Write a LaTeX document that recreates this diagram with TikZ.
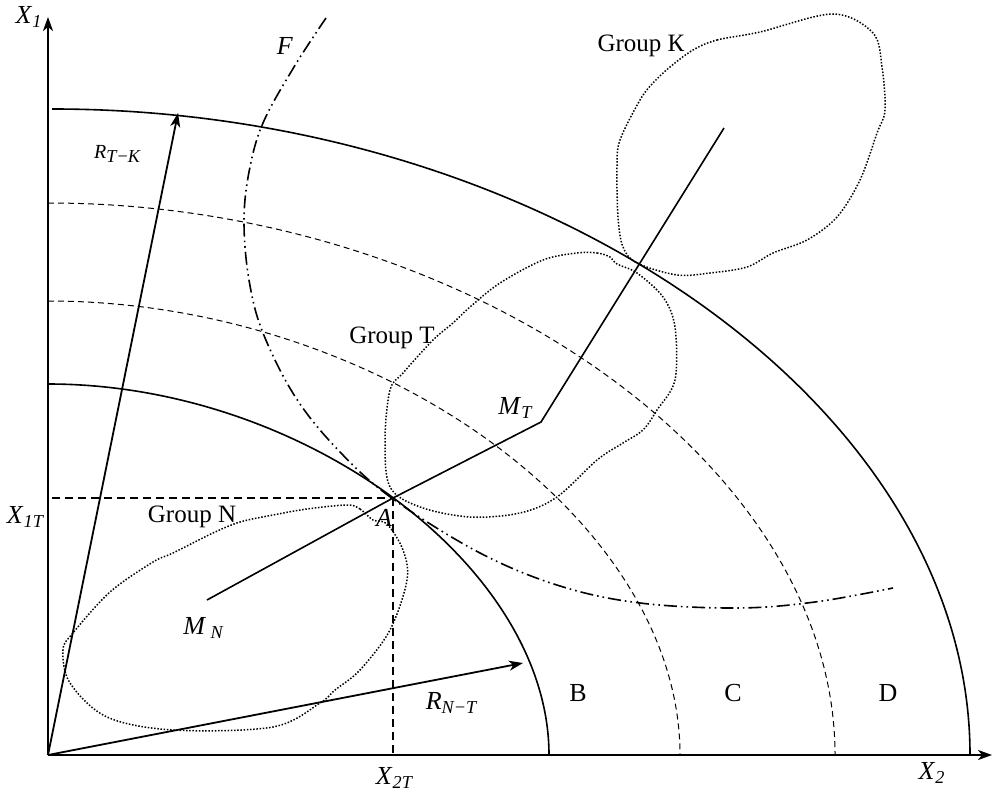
\documentclass[tikz,border=0pt]{standalone}
\usepackage{fontspec}
\setmainfont{Liberation Serif}
\usetikzlibrary{arrows.meta}
\newcommand{\symb}[2]{\textit{#1}\textsubscript{\textit{#2}}}
\tikzset{
    axis/.style={
        draw,
        line width=1.1pt,
        -{Stealth[length=7pt,width=5pt,inset=2pt]}
    },
    bound/.style={
        draw,
        line width=0.8pt
    },
    level/.style={
        draw,
        line width=0.5pt,
        dash pattern=on 3pt off 2pt
    },
    proj/.style={
        draw,
        line width=0.6pt,
        dash pattern=on 4pt off 2.5pt
    },
    group/.style={
        draw,
        line width=0.75pt,
        dash pattern=on 0.75pt off 0.85pt
    },
    traj/.style={
        draw,
        line width=0.8pt,
        dash pattern=on 6.5pt off 2pt on 0.8pt off 2pt on 0.8pt off 2pt
    },
    radius/.style={
        draw,
        line width=0.9pt,
        -{Stealth[length=7pt,width=5pt,inset=2pt]}
    },
    link/.style={
        draw,
        line width=0.8pt
    },
    lbl/.style={
        inner sep=0pt,
        font=\fontsize{13}{15}\selectfont
    },
    grp/.style={
        inner sep=0pt,
        font=\fontsize{12.5}{15}\selectfont
    }
}
\begin{document}
\begin{tikzpicture}[x=0.5pt, y=-0.5pt]
        \useasboundingbox (0,0) rectangle (994,796);
        % axes and points
        \coordinate (O) at (48,755);
        \coordinate (x1end) at (48,17);
        \coordinate (x2end) at (992,755);
        \coordinate (A) at (393,498);
        \coordinate (X1T) at (52,498);
        \coordinate (X2T) at (393,755);
        \coordinate (MN) at (207,600);
        \coordinate (MT) at (541,422);
        \coordinate (MK) at (724,128);
        \coordinate (rtk) at (178,113);
        \coordinate (rnt) at (523,663);

        \path[axis] (O) -- (x1end);
        \path[axis] (O) -- (x2end);

        % zone boundaries
        \path[bound] (48,384) .. controls (303.5,384) and (549,566) .. (549,755);
        \path[bound] (52,109) .. controls (546,109) and (970,406) .. (970,755);
        \path[level] (48,301) .. controls (377,301) and (680,519) .. (680,755);
        \path[level] (48,203) .. controls (465,203) and (835,462) .. (835,755);

        % F
        \path[traj] plot[smooth, tension=0.6] coordinates {(326,18) (294,67) (263,123) (249,172) (244,222) (249,280) (263,333) (296,398) (340,452) (393,499) (480,553) (560,586) (640,603) (737,608) (815,602) (893,588)};

        % projections of A
        \path[proj] (X1T) -- (A);
        \path[proj] (A) -- (X2T);

        % groups
        \path[group] plot[smooth cycle, tension=0.55] coordinates {(347,505) (360,509) (373,520) (387,524) (403,550) (407,580) (390,630) (360,670) (335,690) (320,703) (273,727) (173,730) (107,717) (70,683) (63,650) (73,633) (110,592) (153,562) (173,553) (213,533) (240,522) (273,515) (307,509)};
        \path[group] plot[smooth cycle, tension=0.55] coordinates {(577,253) (597,253) (610,257) (617,264) (637,273) (663,297) (675,327) (675,380) (657,410) (643,430) (623,443) (597,460) (557,497) (520,513) (470,517) (420,507) (390,487) (385,440) (390,390) (403,373) (433,340) (453,323) (470,307) (500,283) (543,260)};
        \path[group] plot[smooth cycle, tension=0.55] coordinates {(693,50) (717,40) (760,32) (833,14) (873,33) (882,67) (885,110) (877,133) (860,180) (837,217) (807,240) (773,253) (747,267) (710,273) (677,275) (637,263) (623,247) (618,217) (617,167) (620,140) (640,100) (653,83) (670,67)};

        % centres
        \path[link] (MN) -- (A) -- (MT) -- (MK);

        % radii
        \path[radius] (O) -- (rtk);
        \path[radius] (O) -- (rnt);

        % labels
        \node[lbl] (lx1) at (29,17) {\symb{X}{1}};
        \node[lbl] (lx2) at (932,773) {\symb{X}{2}};
        \node[lbl] (lx1t) at (26,517) {\symb{X}{1T}};
        \node[lbl] (lx2t) at (395,778) {\symb{X}{2T}};
        \node[lbl] (lf) at (285,46) {\textit{F}};
        \node[lbl] (la) at (384,518) {\textit{A}};
        \node[lbl] (lmn) at (204,628) {\textit{M}\,\textsubscript{\textit{N}}};
        \node[lbl] (lmt) at (516,408) {\symb{M}{T}};
        \node[lbl] (lrtk) at (118,154) {{\fontsize{10}{12}\selectfont\textit{R}}\textsubscript{\textit{T}−\textit{K}}};
        \node[lbl] (lrnt) at (452,703) {\symb{R}{N−T}};
        \node[grp] (gk) at (641,46) {Group К};
        \node[grp] (gt) at (392,338) {Group T};
        \node[grp] (gn) at (192,517) {Group N};
        \node[lbl] (zb) at (578,693) {B};
        \node[lbl] (zc) at (733,693) {C};
        \node[lbl] (zd) at (888,693) {D};
    \end{tikzpicture}
\end{document}
